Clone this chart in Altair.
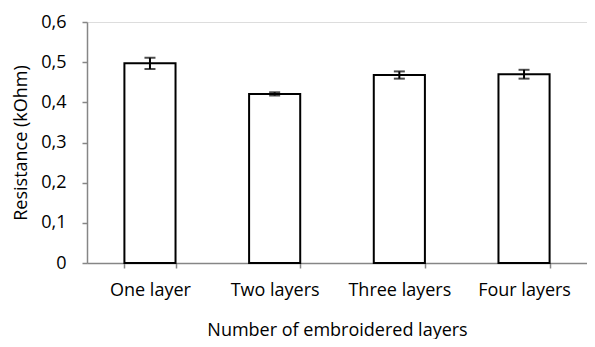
import altair as alt
import pandas as pd

categories = ["One layer", "Two layers", "Three layers", "Four layers"]
means = [0.497, 0.421, 0.468, 0.470]
errors = [0.014, 0.004, 0.009, 0.011]

df = pd.DataFrame({"cat": categories, "mean": means, "err": errors})
df["lo"] = df["mean"] - df["err"]
df["hi"] = df["mean"] + df["err"]

FONT = "Open Sans"
GRAY = "#868686"
FS = 18

x = alt.X("cat:N", sort=categories, title="Number of embroidered layers",
          scale=alt.Scale(paddingInner=0.59, paddingOuter=0.3),
          axis=alt.Axis(labelAngle=0, tickBand="extent", domainColor=GRAY, tickColor=GRAY,
                        tickSize=5, domainWidth=1.5, tickWidth=1.5,
                        labelFontSize=FS, labelColor="#000", labelPadding=13,
                        titleFontSize=FS, titleFontWeight="normal", titleColor="#000",
                        titlePadding=22, labelFont=FONT, titleFont=FONT))

base = alt.Chart(df)

bars = base.mark_bar(fill="white", stroke="black", strokeWidth=2).encode(
    x=x,
    y=alt.Y("mean:Q", title="Resistance (kOhm)",
            scale=alt.Scale(domain=[0, 0.6], nice=False),
            axis=alt.Axis(values=[0, 0.1, 0.2, 0.3, 0.4, 0.5, 0.6], grid=False,
                          labelExpr="datum.value == 0 ? '0' : replace(format(datum.value, '.1f'), '.', ',')",
                          domainColor=GRAY, tickColor=GRAY, tickSize=5, domainWidth=1.5, tickWidth=1.5,
                          labelFontSize=FS, labelColor="#000", labelPadding=16,
                          titleFontSize=FS, titleFontWeight="normal", titleColor="#000",
                          titlePadding=10, labelFont=FONT, titleFont=FONT)),
)

rules = base.mark_rule(color="black", strokeWidth=2).encode(
    x=alt.X("cat:N", sort=categories), y="lo:Q", y2="hi:Q")
caps_lo = base.mark_tick(color="black", thickness=2, size=11, orient="horizontal").encode(
    x=alt.X("cat:N", sort=categories), y="lo:Q")
caps_hi = base.mark_tick(color="black", thickness=2, size=11, orient="horizontal").encode(
    x=alt.X("cat:N", sort=categories), y="hi:Q")

chart = alt.layer(bars, rules, caps_lo, caps_hi).properties(
    width=500, height=241,
    autosize=alt.AutoSizeParams(type="none"),
    padding={"left": 79, "top": 14, "right": 0, "bottom": 76},
).configure_view(stroke=None).configure(background="white")

chart.save("out.html", embed_options={"renderer": "svg", "actions": False})
